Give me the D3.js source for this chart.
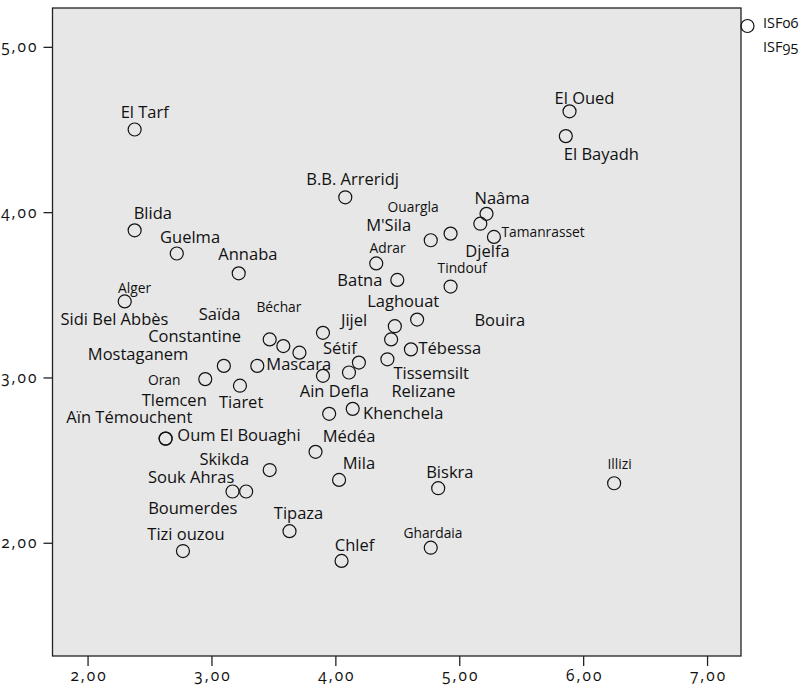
<!DOCTYPE html>
<html>
<head>
<meta charset="utf-8">
<script src="https://cdn.jsdelivr.net/npm/d3@7"></script>
<style>
  body { margin: 0; background: #fff; }
  text { font-family: "Open Sans", "Noto Sans", sans-serif; fill: #111; font-feature-settings: "onum" 1; font-variant-numeric: oldstyle-nums; }
  .tick text { letter-spacing: 2px; }
</style>
</head>
<body>
<svg id="chart" width="803" height="685"></svg>
<script>
// Wilayas: total fertility index 1995 (x) against 2006 (y)
const wilayas = ["El Tarf","El Oued","El Bayadh","B.B. Arreridj","Blida","Naâma","Djelfa","Tamanrasset","Ouargla","M'Sila",
  "Guelma","Annaba","Adrar","Batna","Tindouf","Alger","Bouira","Laghouat","Relizane","Tébessa",
  "Tissemsilt","Jijel","Béchar","Saïda","Constantine","Mostaganem","Mascara","Oran","Tiaret","Sétif",
  "Sidi Bel Abbès","Ain Defla","Tlemcen","Khenchela","Oum El Bouaghi","Médéa","Skikda","Mila","Souk Ahras","Boumerdes",
  "Biskra","Illizi","Tipaza","Tizi ouzou","Chlef","Ghardaia","Aïn Témouchent"];

const isf95 = [2.38,5.89,5.86,4.08,2.38,5.22,5.17,5.28,4.93,4.77,
  2.72,3.22,4.33,4.50,4.93,2.30,4.66,4.48,4.45,4.61,
  4.42,3.90,3.47,3.58,3.71,3.10,3.37,2.95,3.23,4.19,
  4.11,3.90,3.95,4.14,2.63,3.84,3.47,4.03,3.17,3.28,
  4.83,6.25,3.63,2.77,4.05,4.77,2.63];

const isf06 = [4.50,4.61,4.46,4.09,3.89,3.99,3.93,3.85,3.87,3.83,
  3.75,3.63,3.69,3.59,3.55,3.46,3.35,3.31,3.23,3.17,
  3.11,3.27,3.23,3.19,3.15,3.07,3.07,2.99,2.95,3.09,
  3.03,3.01,2.78,2.81,2.63,2.55,2.44,2.38,2.31,2.31,
  2.33,2.36,2.07,1.95,1.89,1.97,2.63];

const xTicks = [2, 3, 4, 5, 6, 7];
const yTicks = [2, 3, 4, 5];
const seriesNames = ["ISF06", "ISF95"];

// Label placement relative to each marker (pixels), set by hand to avoid overlaps
const labelOffsets = [[-14,-12],[-15,-7],[-2,24],[-39,-12],[-1,-11],[-12,-9.5],[-15,33],[7.5,0],[-63,-22],[-64.6,-9.3],
  [-16.7,-10.7],[-20.4,-13.3],[-6.7,-10],[-60,6.2],[-13,-13.4],[-6.7,-8.4],[57.3,6.7],[-27.6,-19],[0.3,57.4],[7.5,4.8],
  [6,19.5],[18,-6.7],[-13.3,-27.3],[-84.5,-26.3],[-151.3,-10.8],[-136,-6],[9,4],[-57.3,5.7],[-21,22.3],[-36,-9],
  [-288.5,-47.5],[-23.2,21.5],[-187.5,-8],[10.4,10.6],[11.7,2.7],[7.2,-10.3],[-70.3,-5.3],[3.7,-10.7],[-84.6,-9],[-98,22],
  [-12,-10],[-6.7,-14.7],[-15.7,-12],[-35.6,-11.3],[-6.7,-9.6],[-27.3,-9.6],[-99.3,-15.7]];
const narrowLabels = new Set(["Ouargla","Adrar","Tindouf","Alger","Béchar","Oran","Illizi","Ghardaia","Tamanrasset"]);

const plot = { left: 52.5, top: 8, right: 741, bottom: 656 };

const svg = d3.select("#chart");

const x = d3.scaleLinear().domain([1.717, 7.274]).range([plot.left, plot.right]);
const y = d3.scaleLinear().domain([1.315, 5.235]).range([plot.bottom, plot.top]);

const locale = d3.formatLocale({ decimal: ",", thousands: ".", grouping: [3], currency: ["", ""] });
const fmt = locale.format(".2f");

// plot background
svg.append("rect")
  .attr("x", plot.left).attr("y", plot.top)
  .attr("width", plot.right - plot.left).attr("height", plot.bottom - plot.top)
  .attr("fill", "#e7e7e7");

// axes
const xAxis = svg.append("g")
  .attr("transform", `translate(0,${plot.bottom})`)
  .call(d3.axisBottom(x).tickValues(xTicks).tickFormat(fmt).tickSize(10).tickPadding(4));
const yAxis = svg.append("g")
  .attr("transform", `translate(${plot.left},0)`)
  .call(d3.axisLeft(y).tickValues(yTicks).tickFormat(fmt).tickSize(9).tickPadding(5));
[xAxis, yAxis].forEach(g => {
  g.select(".domain").remove();
  g.selectAll(".tick line").attr("stroke", "#222").attr("stroke-width", 1.3);
  g.selectAll(".tick text").style("font-size", "15.5px").attr("fill", "#111");
});
// centre the spaced-out x tick labels on their ticks
xAxis.selectAll(".tick text").attr("dx", "1px");

// frame
svg.append("rect")
  .attr("x", plot.left).attr("y", plot.top)
  .attr("width", plot.right - plot.left).attr("height", plot.bottom - plot.top)
  .attr("fill", "none").attr("stroke", "#222").attr("stroke-width", 1.3);

const points = wilayas.map((name, i) => ({ name, vx: isf95[i], vy: isf06[i], off: labelOffsets[i] }));

// markers
svg.append("g").selectAll("circle")
  .data(points)
  .join("circle")
  .attr("cx", d => x(d.vx))
  .attr("cy", d => y(d.vy))
  .attr("r", 6.5)
  .attr("fill", "none")
  .attr("stroke", "#111")
  .attr("stroke-width", 1.2);

// labels
svg.append("g").selectAll("text")
  .data(points)
  .join("text")
  .attr("transform", d => {
    const tx = x(d.vx) + d.off[0], ty = y(d.vy) + d.off[1];
    return narrowLabels.has(d.name) ? `translate(${tx},${ty}) scale(0.92,1)` : `translate(${tx},${ty})`;
  })
  .style("font-size", d => narrowLabels.has(d.name) ? "15px" : "16.5px")
  .text(d => d.name);

// legend
const legend = svg.append("g");
legend.append("circle")
  .attr("cx", 747.5).attr("cy", 26).attr("r", 6.5)
  .attr("fill", "none").attr("stroke", "#111").attr("stroke-width", 1.2);
legend.selectAll("text")
  .data(seriesNames)
  .join("text")
  .attr("x", 763)
  .attr("y", (d, i) => 28 + i * 23.5)
  .style("font-size", "14.5px")
  .text(d => d);
</script>
</body>
</html>
